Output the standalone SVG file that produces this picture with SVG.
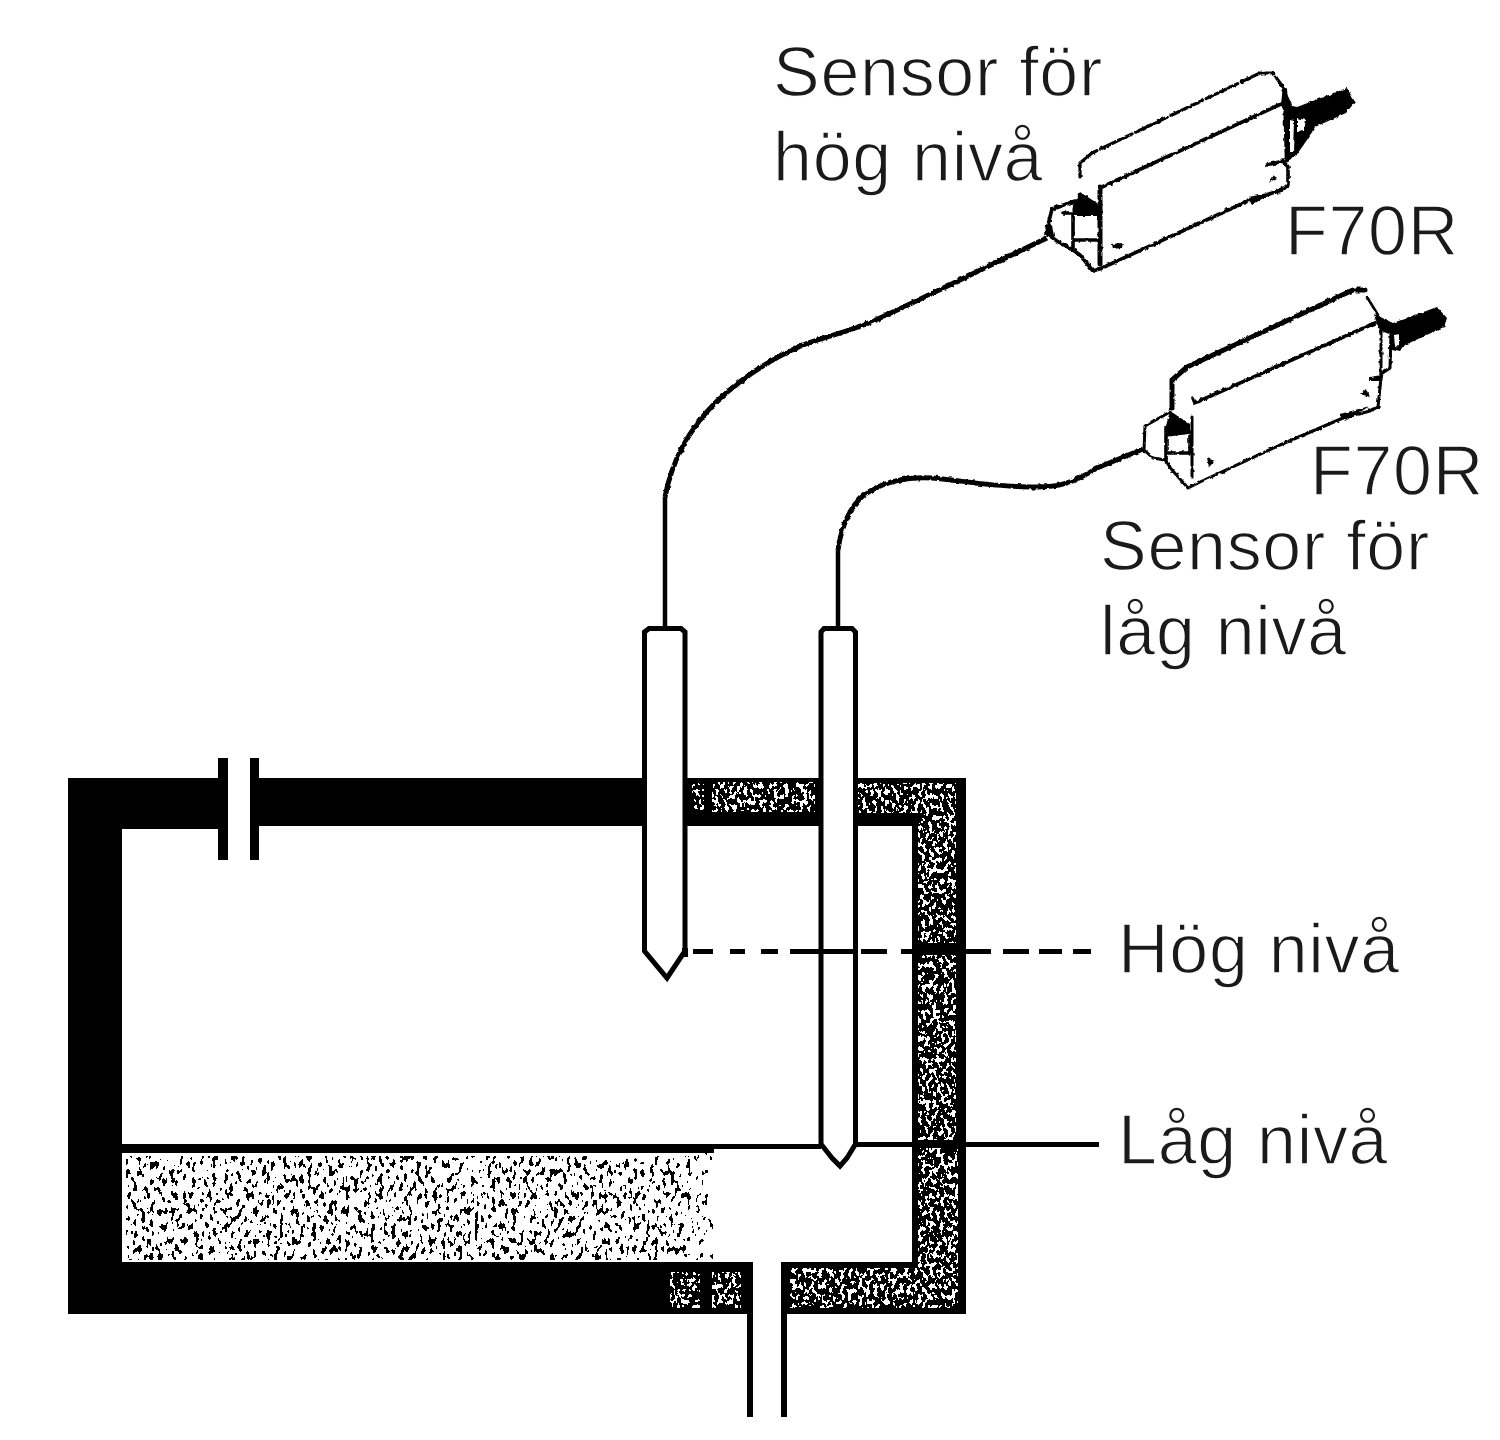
<svg xmlns="http://www.w3.org/2000/svg" width="1500" height="1440" viewBox="0 0 1500 1440">
<style>
.t{font-family:"Liberation Sans",Arial,sans-serif;font-size:70px;fill:#1a1a1a;stroke:#fff;stroke-width:1.3px;letter-spacing:.7px}
.k{fill:#000}
.w{fill:#fff}
.sp{fill:#fff;filter:url(#speckW)}
.sq{fill:#000;filter:url(#speckB)}
.sr{fill:#000;filter:url(#speckBs)}
.probe{fill:#fff;stroke:#000;stroke-width:5;stroke-linejoin:miter}
.wire{fill:none;stroke:#000;stroke-width:4.5;stroke-linejoin:round;stroke-linecap:butt}
.lv{fill:none;stroke:#000;stroke-width:5}
.s{fill:#fff;stroke:#000;stroke-width:3.6;stroke-linejoin:round;stroke-linecap:round}
.l{fill:none;stroke:#000;stroke-width:3.6;stroke-linejoin:round;stroke-linecap:round}
.rough{filter:url(#rough)}
</style>
<defs>
<filter id="speckW" filterUnits="objectBoundingBox" x="0" y="0" width="1" height="1" color-interpolation-filters="sRGB">
<feTurbulence type="fractalNoise" baseFrequency="0.27 0.19" numOctaves="2" seed="7"/>
<feColorMatrix type="matrix" values="0 0 0 0 1 0 0 0 0 1 0 0 0 0 1 1 0 0 0 0"/>
<feComponentTransfer><feFuncA type="discrete" tableValues="0 0 0 0 0 0 0 0 0 0 0 1 1 1 1 1 1 1 1 1"/></feComponentTransfer>
</filter>
<filter id="speckB" filterUnits="objectBoundingBox" x="0" y="0" width="1" height="1" color-interpolation-filters="sRGB">
<feTurbulence type="fractalNoise" baseFrequency="0.24 0.13" numOctaves="2" seed="11"/>
<feColorMatrix type="matrix" values="0 0 0 0 0 0 0 0 0 0 0 0 0 0 0 1 0 0 0 0"/>
<feComponentTransfer><feFuncA type="discrete" tableValues="0 0 0 0 0 0 0 0 0 0 0 0 1 1 1 1 1 1 1 1"/></feComponentTransfer>
</filter>
<filter id="speckBs" filterUnits="objectBoundingBox" x="0" y="0" width="1" height="1" color-interpolation-filters="sRGB">
<feTurbulence type="fractalNoise" baseFrequency="0.24 0.13" numOctaves="2" seed="11"/>
<feColorMatrix type="matrix" values="0 0 0 0 0 0 0 0 0 0 0 0 0 0 0 1 0 0 0 0"/>
<feComponentTransfer><feFuncA type="discrete" tableValues="0 0 0 0 0 0 0 0 0 0 0 0 0 1 1 1 1 1 1 1"/></feComponentTransfer>
</filter>
<filter id="rough" filterUnits="userSpaceOnUse" x="0" y="0" width="1500" height="1440" color-interpolation-filters="sRGB">
<feTurbulence type="fractalNoise" baseFrequency="0.28" numOctaves="1" seed="4" result="n"/>
<feDisplacementMap in="SourceGraphic" in2="n" scale="3.5" xChannelSelector="R" yChannelSelector="G"/>
</filter>
</defs>
<rect class="w" width="1500" height="1440"/>

<g id="tank">
<rect class="k" x="68" y="778" width="898" height="536"/>
<rect class="w" x="122" y="826" width="790" height="436"/>
<rect class="k" x="122" y="826" width="96" height="3"/>
<rect class="w" x="228" y="770" width="22" height="70"/>
<rect class="k" x="218" y="758" width="10" height="102"/>
<rect class="k" x="250" y="758" width="9" height="102"/>
<rect class="w" x="753" y="1255" width="28" height="70"/>
<rect class="k" x="747" y="1262" width="6" height="155"/>
<rect class="k" x="781" y="1262" width="6" height="155"/>
<g id="wall-fill">
<rect class="sp" x="692" y="782" width="12" height="28"/>
<rect class="sp" x="712" y="782" width="103" height="30"/>
<rect class="sp" x="858" y="783" width="98" height="30"/>
<rect class="sp" x="918" y="812" width="38" height="131"/>
<rect class="sp" x="918" y="955" width="38" height="185"/>
<rect class="sp" x="918" y="1148" width="40" height="120"/>
<rect class="sp" x="790" y="1268" width="168" height="40"/>
<rect class="sp" x="670" y="1272" width="30" height="36"/>
<rect class="sp" x="712" y="1272" width="29" height="36"/>
</g>
</g>

<g id="liquid">
<rect class="k" x="122" y="1144" width="592" height="9"/>
<rect class="w rough" x="126" y="1155" width="586" height="105"/>
<rect class="sq" x="126" y="1156" width="564" height="104"/>
<rect class="sr" x="690" y="1153" width="23" height="107"/>
</g>

<g id="probe-high">
<path class="probe" d="M649 628.500H681L685 632V951L667 978L644.500 951V632Z"/>
<rect class="k" x="682" y="948" width="6" height="9"/>
</g>
<g id="probe-low">
<path class="probe" d="M824 628.500H852L855.500 632V1144L847 1158L840 1166L832 1158L821 1144V632Z"/>
</g>

<g id="connectors">
<path class="wire" d="M665 627V497"/>
<path class="wire rough" style="stroke-width:5" d="M665 497C672 460 690 428 716 402C745 375 775 357 803 345C830 335 850 332 880 318C930 295 990 265 1047 238"/>
<path class="wire" d="M838 627V550"/>
<path class="wire rough" style="stroke-width:5" d="M838 550C842 520 855 498 872 490C890 480 912 477 932 478C960 480 985 486 1030 487C1060 488 1075 482 1097 468L1143 449"/>
<path class="lv" d="M693 951.500H713M730 951.500H745M761 951.500H778M790 951.500H853M861 951.500H887M901 951.500H958M966 951.500H991M1003 951.500H1029M1039 951.500H1062M1073 951.500H1091"/>
<path class="lv" d="M712 1146.500H821"/>
<path class="lv" d="M856 1144.500H1099"/>
</g>

<g id="sensor-high" class="rough">
<path class="s" style="stroke:none" d="M1080 177V163L1092 153L1260 73H1273L1283 87L1288 165V187L1283 190L1093 270L1062 245L1050 225L1062 207L1080 200Z"/>
<path class="l" style="stroke-dasharray:22 3 10 4;stroke-width:3.2" d="M1080 177V163L1092 153L1260 73H1273L1283 87"/>
<path class="l" d="M1102 187L1283 103"/>
<path class="l" style="stroke-width:4.500" d="M1285 90L1287 160"/>
<path class="l" d="M1267 165L1283 161L1288 167V185L1282 190L1250 200L1102 268L1093 271L1080 255L1073 250L1057 241L1046 233L1052 209L1075 201"/>
<path class="l" style="stroke-width:5" d="M1100 187V264"/>
<path class="l" d="M1073 213V250M1063 213H1100M1075 240H1100"/>
<path class="k" d="M1080 192L1100 205V216H1072L1073 205Z"/>
<path class="k" d="M1045 233L1049 222L1052 226L1055 240Z"/>
<path class="k" d="M1112 244L1123 243L1122 248L1113 249Z"/>
<path class="k" d="M1268 183L1273 175L1277 178Z"/>
<path class="k" d="M1283 85L1292 105L1287 118L1281 105Z"/>
<path class="k" d="M1248 197L1280 191L1283 186L1252 205Z"/>
<path class="k" d="M1288 105L1297 107L1347 88L1355 102L1346 113L1315 127L1307 140L1300 150L1296 156L1286 162Z"/>
<path class="w" d="M1297 118L1306 120L1304 130L1297 131Z"/>
<path class="w" d="M1290 120L1294 121L1293 152L1290 152Z"/>
</g>

<g id="sensor-low" class="rough">
<path class="s" style="stroke:none" d="M1172 410V380L1187 367L1353 290H1367L1380 317V377L1378 407L1188 488L1153 460L1145 450V425L1170 412Z"/>
<path class="l" style="stroke-width:5" d="M1172 408V380L1187 367L1353 290H1365"/>
<path class="l" style="stroke-width:2.600" d="M1367 297L1378 315"/>
<path class="l" d="M1193 398L1195 403L1375 323"/>
<path class="l" style="stroke-width:3" d="M1381 325V378L1378 407L1370 411L1343 418L1280 445L1200 482L1188 488L1172 470L1165 460L1153 458L1144 450L1145 426L1170 412"/>
<path class="l" style="stroke-width:3" d="M1192 417V477"/>
<path class="l" d="M1166 428V462M1167 435L1190 432M1167 453H1190M1190 436V453"/>
<path class="k" d="M1170 411L1190 424V432L1168 436L1166 426Z"/>
<path class="k" d="M1360 394L1366 389L1370 397Z"/>
<path class="k" d="M1207 458L1215 461L1209 467Z"/>
<path class="k" d="M1370 377L1383 375L1382 381L1370 381Z"/>
<path class="k" d="M1340 414L1370 406L1345 421Z"/>
<path class="k" d="M1374 314L1393 323L1437 307L1447 318L1444 327L1405 345L1400 352L1392 350L1390 332L1378 328Z"/>
<path class="w" d="M1394 335L1399 334L1399 345L1395 347Z"/>
<path class="l" style="stroke-width:3" d="M1383 330L1391 333L1390 368L1381 374"/>
</g>

<g id="labels">
<text class="t" x="773" y="96">Sensor för</text>
<text class="t" x="773" y="181">hög nivå</text>
<text class="t" x="1285" y="255">F70R</text>
<text class="t" x="1310" y="495">F70R</text>
<text class="t" x="1100" y="570">Sensor för</text>
<text class="t" x="1100" y="655">låg nivå</text>
<text class="t" x="1118" y="973">Hög nivå</text>
<text class="t" x="1118" y="1164">Låg nivå</text>
</g>
</svg>
